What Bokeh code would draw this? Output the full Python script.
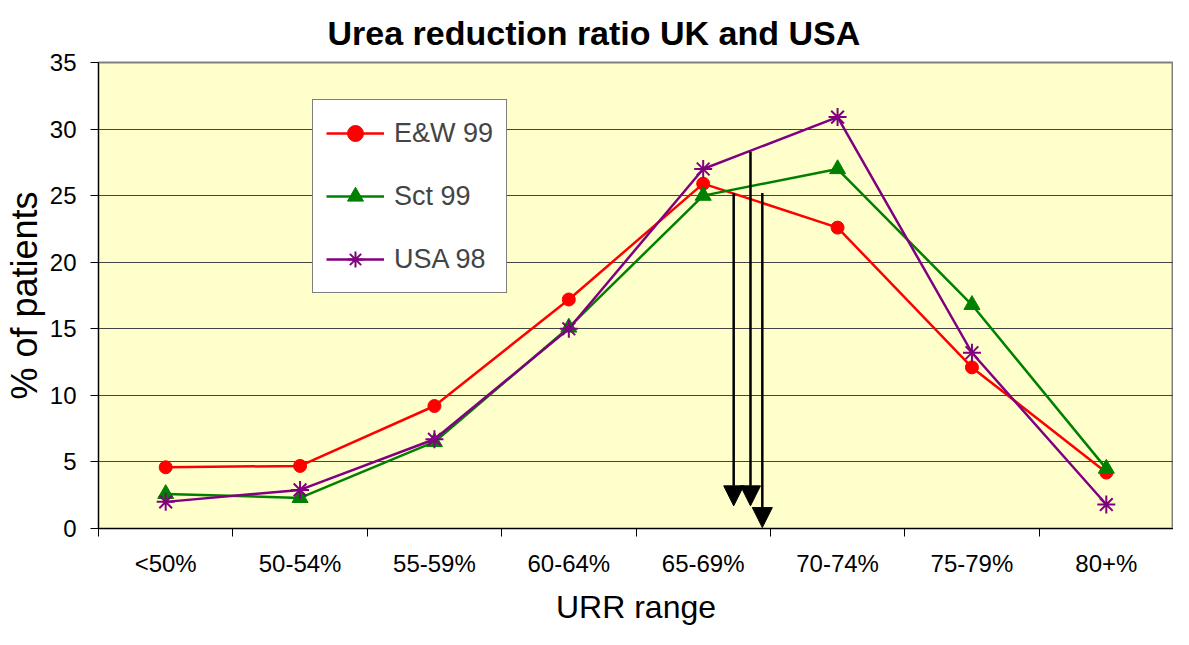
from bokeh.plotting import figure
from bokeh.models import (Range1d, FixedTicker, Legend, LegendItem, Arrow, NormalHead,
                          ColumnDataSource)
from bokeh.embed import file_html
from bokeh.resources import INLINE

# ---- data ----
categories = ["<50%", "50-54%", "55-59%", "60-64%", "65-69%", "70-74%", "75-79%", "80+%"]
ew99 = [4.6, 4.7, 9.2, 17.2, 25.9, 22.6, 12.1, 4.2]
sct99 = [2.6, 2.3, 6.5, 15.1, 25.0, 27.0, 16.8, 4.5]
usa98 = [2.0, 2.9, 6.7, 15.0, 27.0, 30.9, 13.2, 1.8]
y_ticks = [0, 5, 10, 15, 20, 25, 30, 35]

# arrows (position along the category axis, start and end values)
arrow_x = [4.227, 4.352, 4.440]
arrow_y_start = [25.2, 28.3, 25.2]
arrow_y_end = [1.7, 1.7, 0.07]

title_text = "Urea reduction ratio UK and USA"
x_title = "URR range"
y_title = "% of patients"

FONT = "Liberation Sans"
xs = list(range(len(categories)))

p = figure(width=1173, height=629, output_backend="svg", toolbar_location=None,
           x_range=Range1d(-0.5, len(categories) - 0.5), y_range=Range1d(0, 35),
           min_border_left=88, min_border_right=0, min_border_top=52, min_border_bottom=101)

p.title.text = title_text
p.title.align = "left"
p.title.offset = 229
p.title.standoff = 22
p.title.text_font = FONT
p.title.text_font_size = "34px"
p.title.text_font_style = "bold"
p.title.text_color = "black"

p.background_fill_color = "#FFFFCC"
p.border_fill_color = "white"
p.outline_line_color = "#808080"
p.outline_line_width = 2

# axes
p.xaxis.ticker = FixedTicker(ticks=xs, minor_ticks=[i - 0.5 for i in range(len(categories) + 1)])
p.xaxis.major_label_overrides = {i: c for i, c in enumerate(categories)}
p.xaxis.major_tick_out = 0
p.xaxis.major_tick_in = 0
p.xaxis.minor_tick_out = 8
p.xaxis.minor_tick_in = 0
p.xaxis.minor_tick_line_color = "black"
p.xaxis.major_label_standoff = 13
p.xaxis.axis_label = x_title
p.xaxis.axis_label_standoff = 9
p.xaxis.axis_label_text_font_size = "32px"

p.yaxis.ticker = FixedTicker(ticks=y_ticks)
p.yaxis.major_tick_out = 8
p.yaxis.major_tick_in = 0
p.yaxis.minor_tick_out = 0
p.yaxis.minor_tick_in = 0
p.yaxis.major_label_standoff = 14
p.yaxis.axis_label = y_title
p.yaxis.axis_label_standoff = 2
p.yaxis.axis_label_text_font_size = "36px"

for ax in (p.xaxis, p.yaxis):
    ax.axis_line_color = "black"
    ax.axis_line_width = 1
    ax.major_tick_line_color = "black"
    ax.major_label_text_font = FONT
    ax.major_label_text_font_size = "24px"
    ax.major_label_text_color = "black"
    ax.axis_label_text_font = FONT
    ax.axis_label_text_font_style = "normal"
    ax.axis_label_text_color = "black"

p.xgrid.visible = False
p.ygrid.ticker = FixedTicker(ticks=y_ticks)
p.ygrid.grid_line_color = "#444444"
p.ygrid.grid_line_width = 1

# series
r1l = p.line(xs, ew99, line_color="#FF0000", line_width=2.5)
r1m = p.scatter(xs, ew99, marker="circle", size=13, fill_color="#FF0000", line_color="#FF0000")
r2l = p.line(xs, sct99, line_color="#008000", line_width=2.5)
r2m = p.scatter(xs, sct99, marker="triangle", size=16, fill_color="#008000", line_color="#008000")
r3l = p.line(xs, usa98, line_color="#800080", line_width=2.5)
r3m = p.scatter(xs, usa98, marker="asterisk", size=18, line_color="#800080", line_width=2)

# arrows
asrc = ColumnDataSource(dict(x=arrow_x, y0=arrow_y_start, y1=arrow_y_end))
p.add_layout(Arrow(end=NormalHead(size=20, fill_color="black", line_color="black"),
                   x_start="x", y_start="y0", x_end="x", y_end="y1", source=asrc,
                   line_color="black", line_width=2.5))

legend = Legend(items=[
    LegendItem(label="E&W 99", renderers=[r1l, r1m]),
    LegendItem(label="Sct 99", renderers=[r2l, r2m]),
    LegendItem(label="USA 98", renderers=[r3l, r3m]),
], location=(214, 235))
legend.border_line_color = "black"
legend.border_line_width = 1
legend.background_fill_color = "white"
legend.background_fill_alpha = 1
legend.label_text_font = FONT
legend.label_text_font_size = "27px"
legend.glyph_width = 58
legend.glyph_height = 40
legend.label_height = 40
legend.spacing = 23
legend.padding = 13
legend.margin = 0
legend.label_standoff = 10
p.add_layout(legend, "center")

open("out.html", "w").write(file_html(p, INLINE))
